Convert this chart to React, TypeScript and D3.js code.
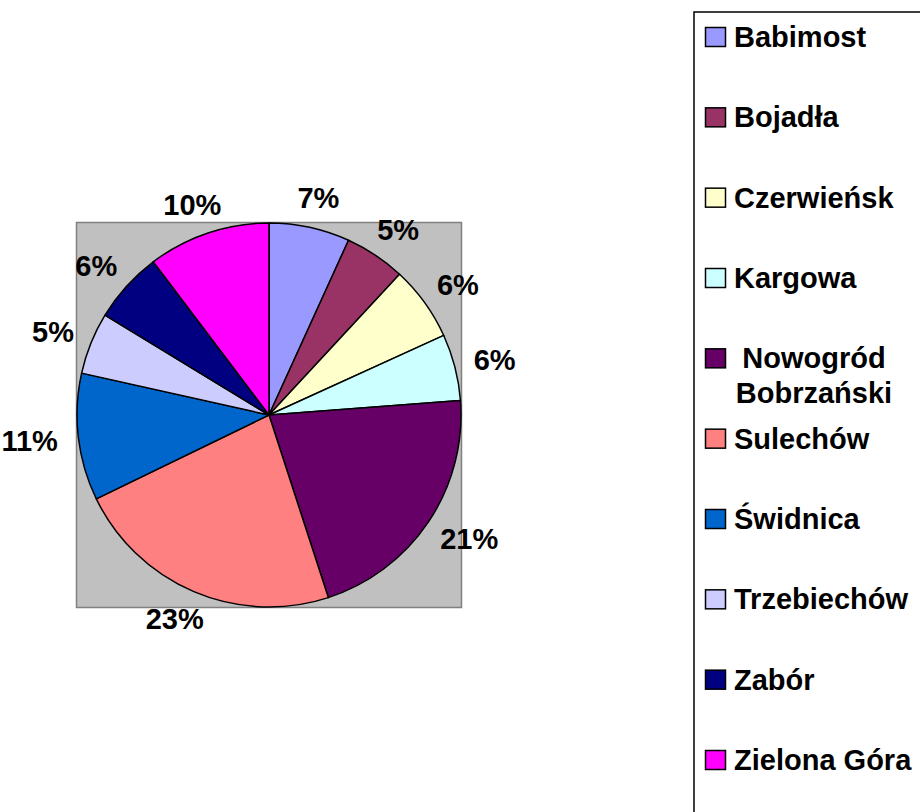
import React from 'react'
import * as d3 from 'd3'

const categories = [
  'Babimost',
  'Bojadła',
  'Czerwieńsk',
  'Kargowa',
  'Nowogród Bobrzański',
  'Sulechów',
  'Świdnica',
  'Trzebiechów',
  'Zabór',
  'Zielona Góra',
]
const values = [6.8, 5.1, 6.3, 5.6, 21.2, 22.8, 10.7, 5.2, 6.0, 10.3]
const colors = [
  '#9999FF',
  '#993366',
  '#FFFFCC',
  '#CCFFFF',
  '#660066',
  '#FF8080',
  '#0066CC',
  '#CCCCFF',
  '#000080',
  '#FF00FF',
]

const W = 920
const H = 812
const FONT = 'Arial, "Liberation Sans", sans-serif'
const FS = 29

export default function App() {
  const cx = 269
  const cy = 415
  const radius = 192
  const total = d3.sum(values)

  const pie = d3
    .pie<number>()
    .sort(null)
    .value(d => d)
  const arcs = pie(values)
  const arc = d3.arc<d3.PieArcDatum<number>>().innerRadius(0).outerRadius(radius)
  const labelArc = d3
    .arc<d3.PieArcDatum<number>>()
    .innerRadius(radius + 20)
    .outerRadius(radius + 20)

  // rough text width for bold arial
  const textW = (s: string) => (s.length === 2 ? FS * 1.445 : FS * 2.0)

  const legendY = d3
    .scalePoint<string>()
    .domain(categories)
    .range([47, 770])

  return (
    <div style={{position: 'absolute', left: 0, top: 0}}>
      <svg width={W} height={H} style={{display: 'block', fontFamily: FONT}}>
        <rect x={0} y={0} width={W} height={H} fill="#fff" />
        {/* plot area */}
        <rect
          x={cx - radius - 0.5}
          y={cy - radius - 0.5}
          width={radius * 2 + 1}
          height={radius * 2 + 1}
          fill="#C0C0C0"
          stroke="#808080"
          strokeWidth={1.5}
        />
        <g transform={`translate(${cx},${cy})`}>
          {arcs.map((d, i) => (
            <path
              key={categories[i]}
              d={arc(d) || ''}
              fill={colors[i]}
              stroke="#000"
              strokeWidth={1.5}
              strokeLinejoin="round"
            />
          ))}
          {arcs.map((d, i) => {
            const label = Math.round((d.value / total) * 100) + '%'
            const a = (d.startAngle + d.endAngle) / 2
            const [px, py] = labelArc.centroid(d)
            const x = px + (textW(label) / 2) * Math.sin(a)
            const y = py - 10 * Math.cos(a)
            return (
              <text
                key={'l' + i}
                x={x}
                y={y + 10}
                textAnchor="middle"
                fontSize={FS}
                fontWeight="bold"
                fill="#000"
              >
                {label}
              </text>
            )
          })}
        </g>

        {/* legend */}
        <rect
          x={694}
          y={12}
          width={W}
          height={H + 20}
          fill="#fff"
          stroke="#000"
          strokeWidth={1.5}
        />
        {categories.map((name, i) => {
          const y = legendY(name) as number
          const wrap = name.length > 14
          const lines = wrap ? name.split(' ') : [name]
          return (
            <g key={name}>
              <rect
                x={705.5}
                y={y - 19.5}
                width={20}
                height={19}
                fill={colors[i]}
                stroke="#000"
                strokeWidth={1.5}
              />
              {lines.map((ln, j) => (
                <text
                  key={ln}
                  x={wrap ? 814 : 734}
                  y={y + j * 35}
                  textAnchor={wrap ? 'middle' : 'start'}
                  fontSize={FS}
                  fontWeight="bold"
                  fill="#000"
                >
                  {ln}
                </text>
              ))}
            </g>
          )
        })}
      </svg>
    </div>
  )
}
